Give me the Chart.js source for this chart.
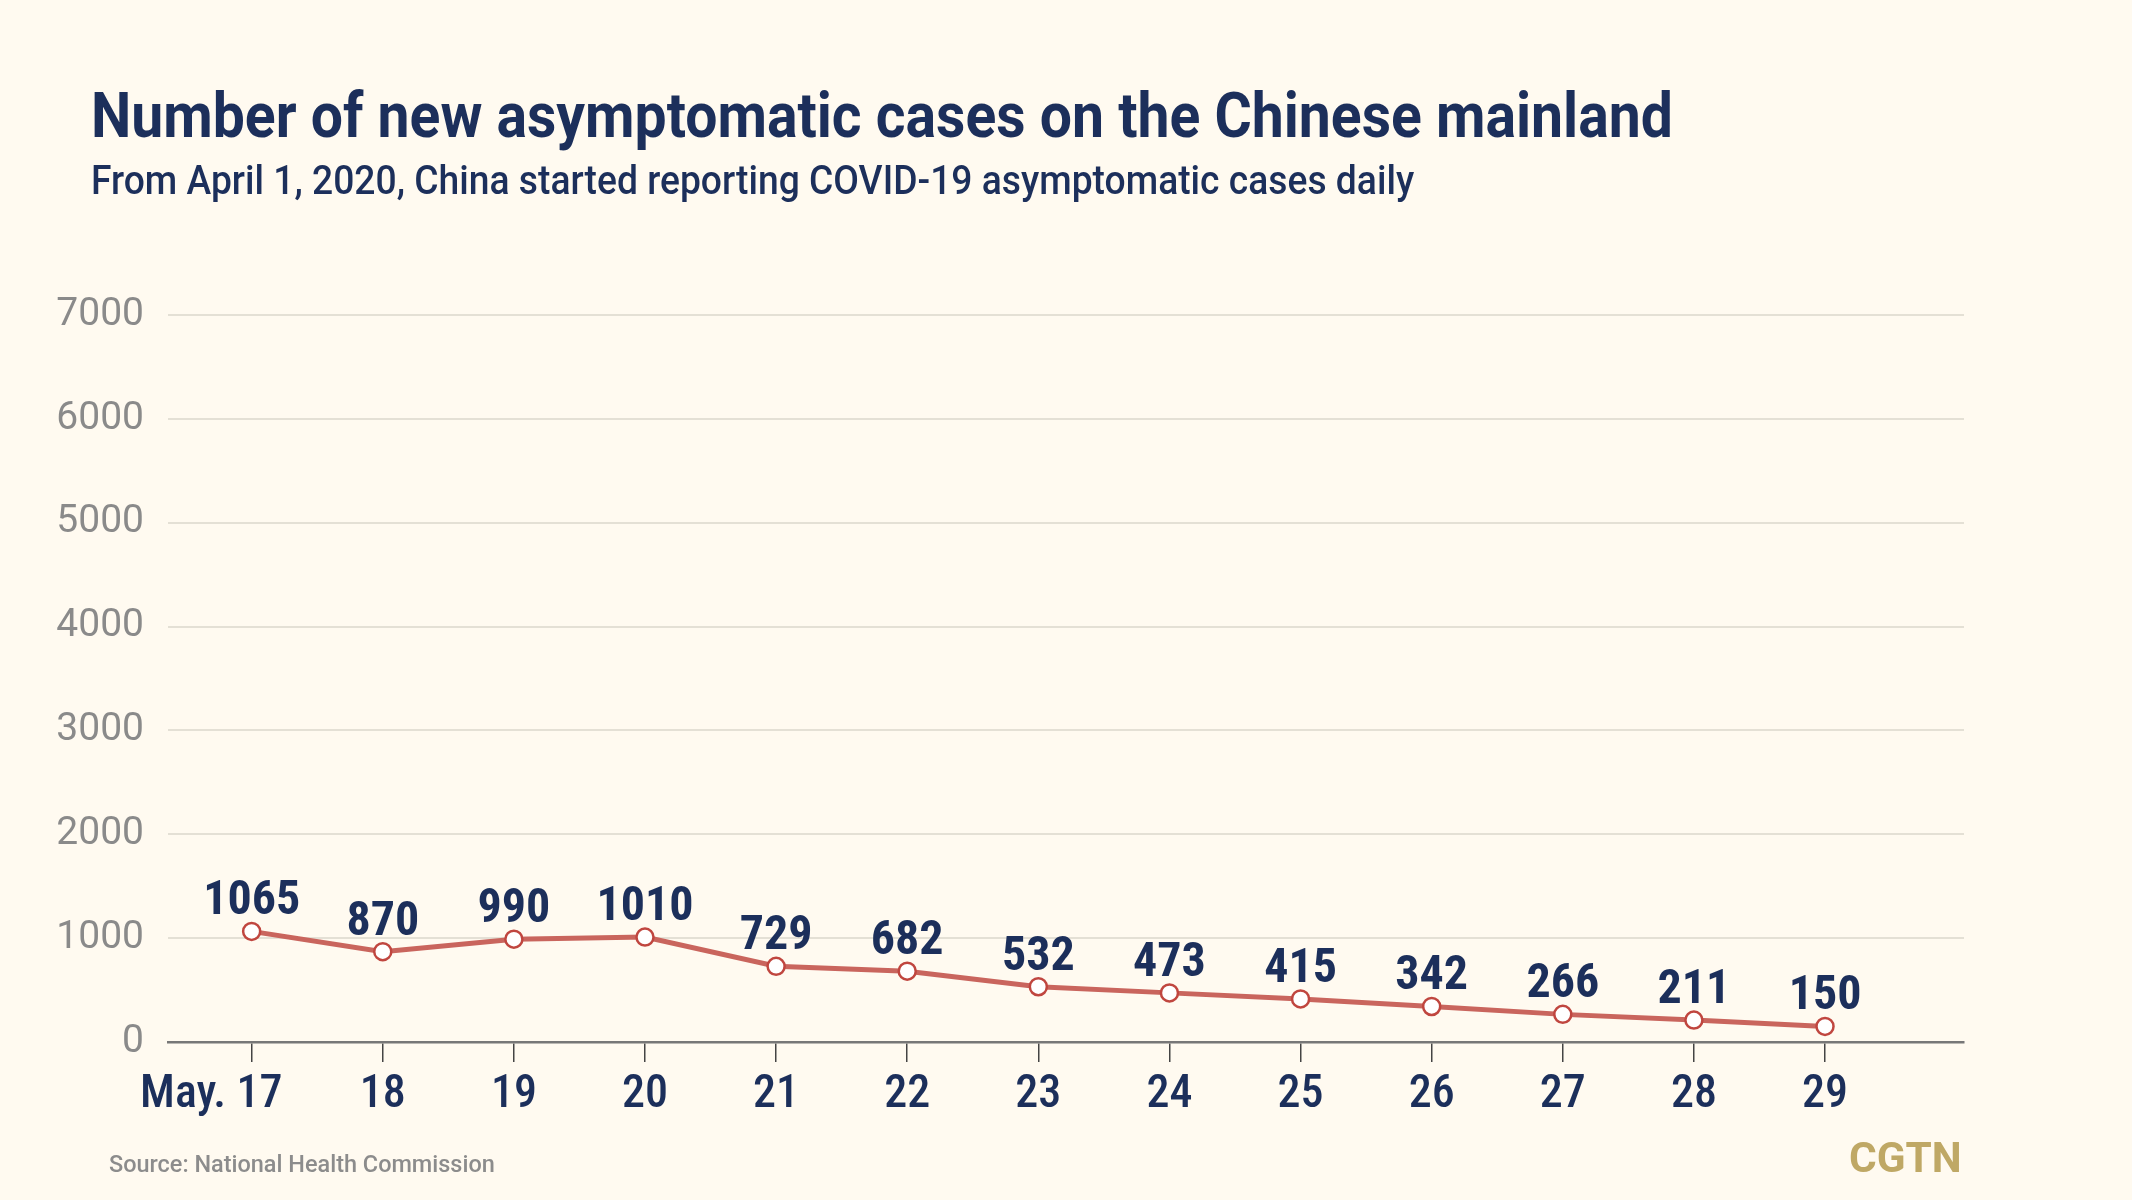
<!DOCTYPE html>
<html>
<head>
<meta charset="utf-8">
<script src="https://cdn.jsdelivr.net/npm/chart.js@4.4.1/dist/chart.umd.min.js"></script>
<style>
  html, body { margin: 0; padding: 0; background: #fffaf0; }
  #wrap { position: relative; width: 2132px; height: 1200px; overflow: hidden; }
  #wrap canvas { position: absolute; left: 0; top: 0; }
  .txt { position: absolute; white-space: nowrap; line-height: 1; font-family: Roboto, sans-serif; }
  #title { left: 91px; top: 84px; font-size: 63px; font-weight: 700; color: #1c2f5b; transform-origin: left top; }
  #subtitle { left: 91px; top: 161px; font-size: 40px; font-weight: 500; color: #1c2f5b; transform-origin: left top; }
  #source { left: 109px; top: 1152px; font-size: 24px; font-weight: 500; color: #8c8c8c; transform-origin: left top; }
  #logo { right: 170px; top: 1137px; font-size: 42px; font-weight: 700; color: #bfa865; transform-origin: right top; }
</style>
</head>
<body>
<div id="wrap">
  <canvas id="chart" width="2132" height="1200"></canvas>
  <div class="txt" id="title" data-w="1582">Number of new asymptomatic cases on the Chinese mainland</div>
  <div class="txt" id="subtitle" data-w="1323">From April 1, 2020, China started reporting COVID-19 asymptomatic cases daily</div>
  <div class="txt" id="source" data-w="386">Source: National Health Commission</div>
  <div class="txt" id="logo" data-w="113">CGTN</div>
</div>
<script>
const dates = ['May. 17', '18', '19', '20', '21', '22', '23', '24', '25', '26', '27', '28', '29'];
const cases = [1065, 870, 990, 1010, 729, 682, 532, 473, 415, 342, 266, 211, 150];
const yTicks = [0, 1000, 2000, 3000, 4000, 5000, 6000, 7000];

// fit the html texts to the widths measured on the picture
document.querySelectorAll('.txt').forEach(el => {
    const w = +el.dataset.w;
    el.style.transform = `scaleX(${w / el.offsetWidth})`;
});

const navy = '#1c2f5b';

const valueLabels = {
    id: 'valueLabels',
    afterDatasetsDraw(chart) {
        const ctx = chart.ctx;
        const meta = chart.getDatasetMeta(0);
        ctx.save();
        ctx.fillStyle = navy;
        ctx.font = '700 48px "Roboto Condensed", Roboto';
        ctx.textAlign = 'center';
        ctx.textBaseline = 'alphabetic';
        meta.data.forEach((pt, i) => {
            ctx.fillText(cases[i], pt.x, pt.y - 17);
        });
        ctx.restore();
    }
};

new Chart(document.getElementById('chart'), {
    type: 'line',
    data: {
        datasets: [{
            data: cases.map((v, i) => ({ x: i, y: v })),
            borderColor: '#c9655d',
            borderWidth: 5,
            pointRadius: 8.5,
            pointBorderWidth: 2.5,
            pointBackgroundColor: '#ffffff',
            pointBorderColor: '#c0463f',
            tension: 0
        }]
    },
    options: {
        responsive: false,
        animation: false,
        layout: { padding: { top: 315, right: 168, bottom: 0, left: 0 } },
        plugins: {
            legend: { display: false },
            tooltip: { enabled: false }
        },
        scales: {
            x: {
                type: 'linear',
                min: -0.638,
                max: 13.06,
                afterBuildTicks: scale => { scale.ticks = dates.map((d, i) => ({ value: i })); },
                afterFit: scale => { scale.height = 158; },
                ticks: {
                    // the first label sits a little left of its tick in the original
                    callback: v => v === 0 ? dates[0] + '\u2003\u2003' : dates[v],
                    color: navy,
                    font: { family: '"Roboto Condensed", Roboto', size: 46, weight: 500 },
                    padding: 6,
                    maxRotation: 0,
                    autoSkip: false
                },
                grid: { drawOnChartArea: false, drawTicks: true, tickLength: 20, color: '#444', lineWidth: 1.5 },
                border: { color: '#777', width: 2.5 }
            },
            y: {
                min: 0,
                max: 7000,
                afterBuildTicks: scale => { scale.ticks = yTicks.map(v => ({ value: v })); },
                afterFit: scale => { scale.width = 168; },
                ticks: {
                    callback: v => String(v),
                    color: '#8a8a8a',
                    font: { family: 'Roboto', size: 39 },
                    padding: 24
                },
                grid: { color: '#e4e0d5', lineWidth: 2, drawTicks: false },
                border: { display: false }
            }
        }
    },
    plugins: [valueLabels]
});
</script>
</body>
</html>
